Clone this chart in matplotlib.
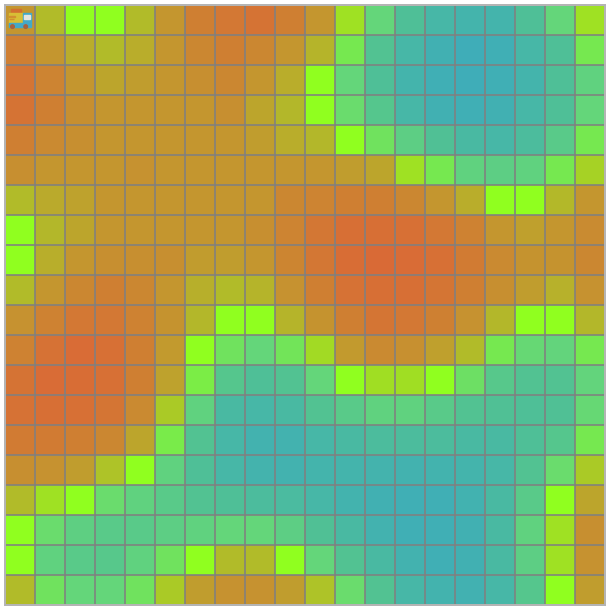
# heat grid with truck icon in the first cell

# %% imports
import numpy as np
import matplotlib
matplotlib.use('Agg')
import matplotlib.pyplot as plt
import matplotlib.colors as mcolors
from matplotlib.patches import Rectangle, Circle


# %% values (0 = orange, 10 = lime, 20 = teal)
row_00 = [3, 5.5, 10, 10, 5.5, 3, 1.5, 1, 0.7, 1.5, 3, 8, 13, 16, 17.5, 18, 18, 16, 13, 8]
row_01 = [1.5, 3, 4.5, 5.5, 4.5, 3, 2, 1.5, 2, 3, 5, 11.5, 15.5, 17.5, 19, 20, 19.5, 17.5, 16, 11.5]
row_02 = [0.8, 1.8, 3, 4, 3.5, 3, 2.5, 2, 3, 4.5, 10, 13, 16, 18, 19.5, 20, 19.5, 18, 16, 13.5]
row_03 = [0.7, 1.5, 2.5, 3, 3, 3, 3, 2.5, 4, 5.2, 10, 12.5, 15, 17.5, 19, 19.5, 19, 17.5, 16, 13]
row_04 = [1.5, 2.2, 2.5, 3, 3, 3, 3, 3, 3.5, 4.5, 5.2, 10, 12, 14, 15.8, 17, 17.5, 16.5, 14.5, 11.5]
row_05 = [2.5, 3, 3, 3, 2.7, 3, 3, 3, 3, 3, 3, 3.5, 4, 8, 11.5, 13.5, 14, 13.5, 11.5, 7]
row_06 = [5.5, 4.3, 3.8, 3, 3, 3, 3, 3, 3, 2, 1.8, 1.5, 1.5, 2, 3, 4.5, 10, 10, 5.3, 3]
row_07 = [10, 5.2, 4, 3, 3, 3, 3, 3, 2.5, 1.8, 0.9, 0.4, 0.4, 0.5, 1, 1.7, 3, 3.7, 3, 2.3]
row_08 = [10, 4.6, 3, 2.5, 2.5, 2.5, 3.4, 3.5, 3, 1.9, 0.9, 0.3, 0.1, 0.2, 0.5, 1.2, 2.2, 2.8, 2.8, 2]
row_09 = [5.5, 3, 2, 1.5, 2, 3, 4.7, 5.5, 5, 2.7, 1.5, 0.6, 0.4, 0.4, 0.8, 1.5, 2.5, 3.5, 4.8, 2.7]
row_10 = [2.7, 1.7, 1, 1, 1.7, 2.8, 5.2, 10, 10, 5, 2.8, 1.5, 0.8, 1, 1.6, 2.7, 5.2, 10, 10, 5.2]
row_11 = [1.7, 0.6, 0.2, 0.5, 1.5, 3.3, 10, 12, 13, 11.8, 7.5, 3.3, 2.2, 2.6, 3.7, 5.5, 11.5, 12.8, 13.2, 11.5]
row_12 = [0.7, 0.2, 0.3, 0.5, 1.5, 3.8, 11.2, 15, 16, 15.5, 13, 10, 7.8, 7.8, 10, 12.2, 14.8, 15.5, 15.5, 13.2]
row_13 = [0.6, 0.4, 0.5, 0.8, 2.2, 6.5, 13.5, 17, 17.5, 17, 15.5, 14.5, 13.5, 13.5, 14.5, 15.5, 15.8, 16, 15.8, 12.8]
row_14 = [1.2, 1.2, 1.5, 2, 4, 11.3, 15.5, 17.5, 18.5, 18.5, 17.5, 17, 16.5, 16.5, 16.5, 17, 17, 16, 15, 11.5]
row_15 = [2.5, 2.7, 3.5, 6, 10, 13.5, 16, 17.5, 18.2, 18.5, 18, 18, 18.2, 18.5, 18.3, 18, 17.5, 15.5, 12.5, 6.5]
row_16 = [5.5, 8, 10, 12.5, 13.5, 14.5, 15.5, 16, 16.5, 16.8, 17.5, 18.3, 19, 19.5, 19.5, 18.7, 17, 14.5, 10, 4]
row_17 = [10, 12.5, 13.8, 14.5, 14.5, 14, 13.5, 13, 13, 14, 15.8, 17, 18.5, 19.5, 19.5, 19, 17, 13.5, 8, 2.5]
row_18 = [10, 13.5, 14.5, 14.8, 13.5, 12, 10, 5.5, 5.5, 10, 13, 15.5, 17, 18.5, 19.5, 19, 17, 14, 8, 2.7]
row_19 = [5.5, 12, 13, 13, 12, 6.5, 3.5, 2.7, 2.7, 3.5, 6, 12.5, 15.5, 17.5, 18.3, 18.8, 17.5, 15, 10, 3.5]

grid = np.array([row_00, row_01, row_02, row_03, row_04, row_05, row_06, row_07, row_08, row_09,
                 row_10, row_11, row_12, row_13, row_14, row_15, row_16, row_17, row_18, row_19])
n_rows, n_cols = grid.shape


# %% plot
# green side falls off quickly after the lime peak
cmap = mcolors.LinearSegmentedColormap.from_list('orange_lime_teal', [
    (0.0, '#DA6936'), (0.5, '#90FF1E'), (0.575, '#76E850'), (0.65, '#64D67A'),
    (0.775, '#52C292'), (0.9, '#44B4AC'), (1.0, '#3FADB8')], N=512)

fig = plt.figure(figsize=(6.1, 6.1), dpi=100)
ax = fig.add_axes([5 / 610, 5 / 610, 600 / 610, 600 / 610])
ax.pcolormesh(np.arange(n_cols + 1), np.arange(n_rows + 1), grid, cmap=cmap, vmin=0, vmax=20)
ax.set_xlim(0, n_cols)
ax.set_ylim(n_rows, 0)
ax.set_axis_off()

# cell borders, semi transparent so the cell colour comes through
ax.vlines(np.arange(1, n_cols), 0, n_rows, color='#808080', alpha=0.8, linewidth=1.44, zorder=3)
ax.hlines(np.arange(1, n_rows), 0, n_cols, color='#808080', alpha=0.8, linewidth=1.44, zorder=3)
ax.add_patch(Rectangle((0, 0), n_cols, n_rows, fill=False, edgecolor='#B4B4B4', linewidth=1.44,
                       zorder=4, clip_on=False))

# truck icon in the first cell
ax.add_patch(Rectangle((0.20, 0.13), 0.33, 0.14, color='#D2702F', zorder=5))
ax.add_patch(Rectangle((0.13, 0.27), 0.47, 0.35, color='#D8BE35', zorder=5))
ax.add_patch(Rectangle((0.60, 0.26), 0.25, 0.46, color='#43A9C8', zorder=5))
ax.add_patch(Rectangle((0.14, 0.60), 0.50, 0.12, color='#43A9C8', zorder=5))
ax.add_patch(Rectangle((0.62, 0.33), 0.20, 0.14, color='#E4E4E0', zorder=6))
ax.add_patch(Rectangle((0.14, 0.36), 0.20, 0.03, color='#D2902F', zorder=6))
ax.add_patch(Rectangle((0.14, 0.45), 0.16, 0.03, color='#D2902F', zorder=6))
ax.add_patch(Circle((0.25, 0.72), 0.06, color='#A8623F', zorder=6))
ax.add_patch(Circle((0.69, 0.72), 0.06, color='#A8623F', zorder=6))

fig.savefig('out.png', dpi=100)
